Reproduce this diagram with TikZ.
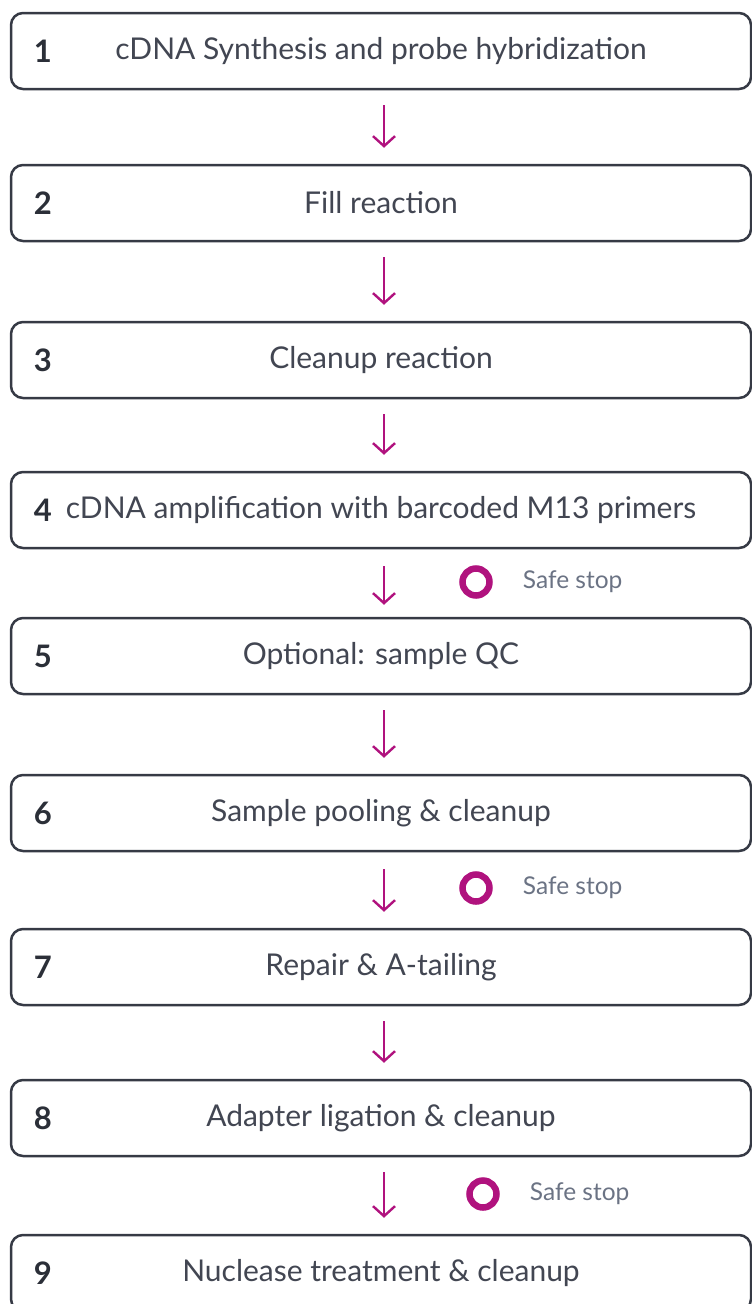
\documentclass[tikz,border=0pt]{standalone}
\usepackage{fontspec}
\setmainfont{Lato}
\usetikzlibrary{positioning,arrows.meta}

\definecolor{boxline}{RGB}{54,58,69}
\definecolor{steptext}{RGB}{66,70,82}
\definecolor{numtext}{RGB}{43,47,56}
\definecolor{accent}{RGB}{176,18,126}
\definecolor{stoptext}{RGB}{107,115,132}

\begin{document}
\begin{tikzpicture}[
    x=1pt, y=-1pt,
    stepbox/.style={
        draw=boxline,
        fill=white,
        line width=2.5pt,
        rounded corners=12pt,
        minimum width=740pt,
        minimum height=76pt,
        text=steptext,
        font=\fontsize{30}{34}\selectfont
    },
    num/.style={
        inner sep=0pt,
        anchor=west,
        text=numtext,
        font=\bfseries\fontsize{31}{34}\selectfont
    },
    flow/.style={
        -{Straight Barb[length=10pt,width=22pt]},
        draw=accent,
        line width=2.4pt,
        shorten <=15pt,
        shorten >=16pt
    },
    stopring/.style={
        circle,
        draw=accent,
        line width=6.5pt,
        minimum size=27pt,
        inner sep=0pt
    },
    stoplabel/.style={
        inner sep=0pt,
        anchor=west,
        text=stoptext,
        font=\fontsize{24.5}{28}\selectfont
    }
]
\useasboundingbox (0,0) rectangle (752,1304);
\clip (0,0) rectangle (752,1304);

% Steps
\node[stepbox] (s1) at (381,51) {cDNA Synthesis and probe hybridization};
\node[stepbox] (s2) at (381,203) {Fill reaction};
\node[stepbox] (s3) at (381,360) {Cleanup reaction};
\node[stepbox] (s4) at (381,510) {cDNA amplification with barcoded M13 primers};
\node[stepbox] (s5) at (381,656) {Optional: sample QC};
\node[stepbox] (s6) at (381,813) {Sample pooling \& cleanup};
\node[stepbox] (s7) at (381,967) {Repair \& A-tailing};
\node[stepbox] (s8) at (381,1118) {Adapter ligation \& cleanup};
\node[stepbox] (s9) at (381,1273) {Nuclease treatment \& cleanup};

% Step numbers
\node[num, right=24pt of s1.west] (n1) {1};
\node[num, right=24pt of s2.west] (n2) {2};
\node[num, right=24pt of s3.west] (n3) {3};
\node[num, right=24pt of s4.west] (n4) {4};
\node[num, right=24pt of s5.west] (n5) {5};
\node[num, right=24pt of s6.west] (n6) {6};
\node[num, right=24pt of s7.west] (n7) {7};
\node[num, right=24pt of s8.west] (n8) {8};
\node[num, right=24pt of s9.west] (n9) {9};

% Arrows
\draw[flow] ([xshift=3pt]s1.south) -- ([xshift=3pt]s2.north);
\draw[flow] ([xshift=3pt]s2.south) -- ([xshift=3pt]s3.north);
\draw[flow] ([xshift=3pt]s3.south) -- ([xshift=3pt]s4.north);
\draw[flow, shorten <=17pt, shorten >=12pt] ([xshift=3pt]s4.south) -- ([xshift=3pt]s5.north);
\draw[flow] ([xshift=3pt]s5.south) -- ([xshift=3pt]s6.north);
\draw[flow, shorten <=17pt] ([xshift=3pt]s6.south) -- ([xshift=3pt]s7.north);
\draw[flow] ([xshift=3pt]s7.south) -- ([xshift=3pt]s8.north);
\draw[flow] ([xshift=3pt]s8.south) -- ([xshift=3pt]s9.north);

% Safe stops
\node[stopring] (c4) at (476,582) {};
\node[stoplabel, right=30pt of c4] (t4) {Safe stop};
\node[stopring] (c6) at (476,888) {};
\node[stoplabel, right=30pt of c6] (t6) {Safe stop};
\node[stopring] (c8) at (483,1194) {};
\node[stoplabel, right=30pt of c8] (t8) {Safe stop};

\end{tikzpicture}
\end{document}
